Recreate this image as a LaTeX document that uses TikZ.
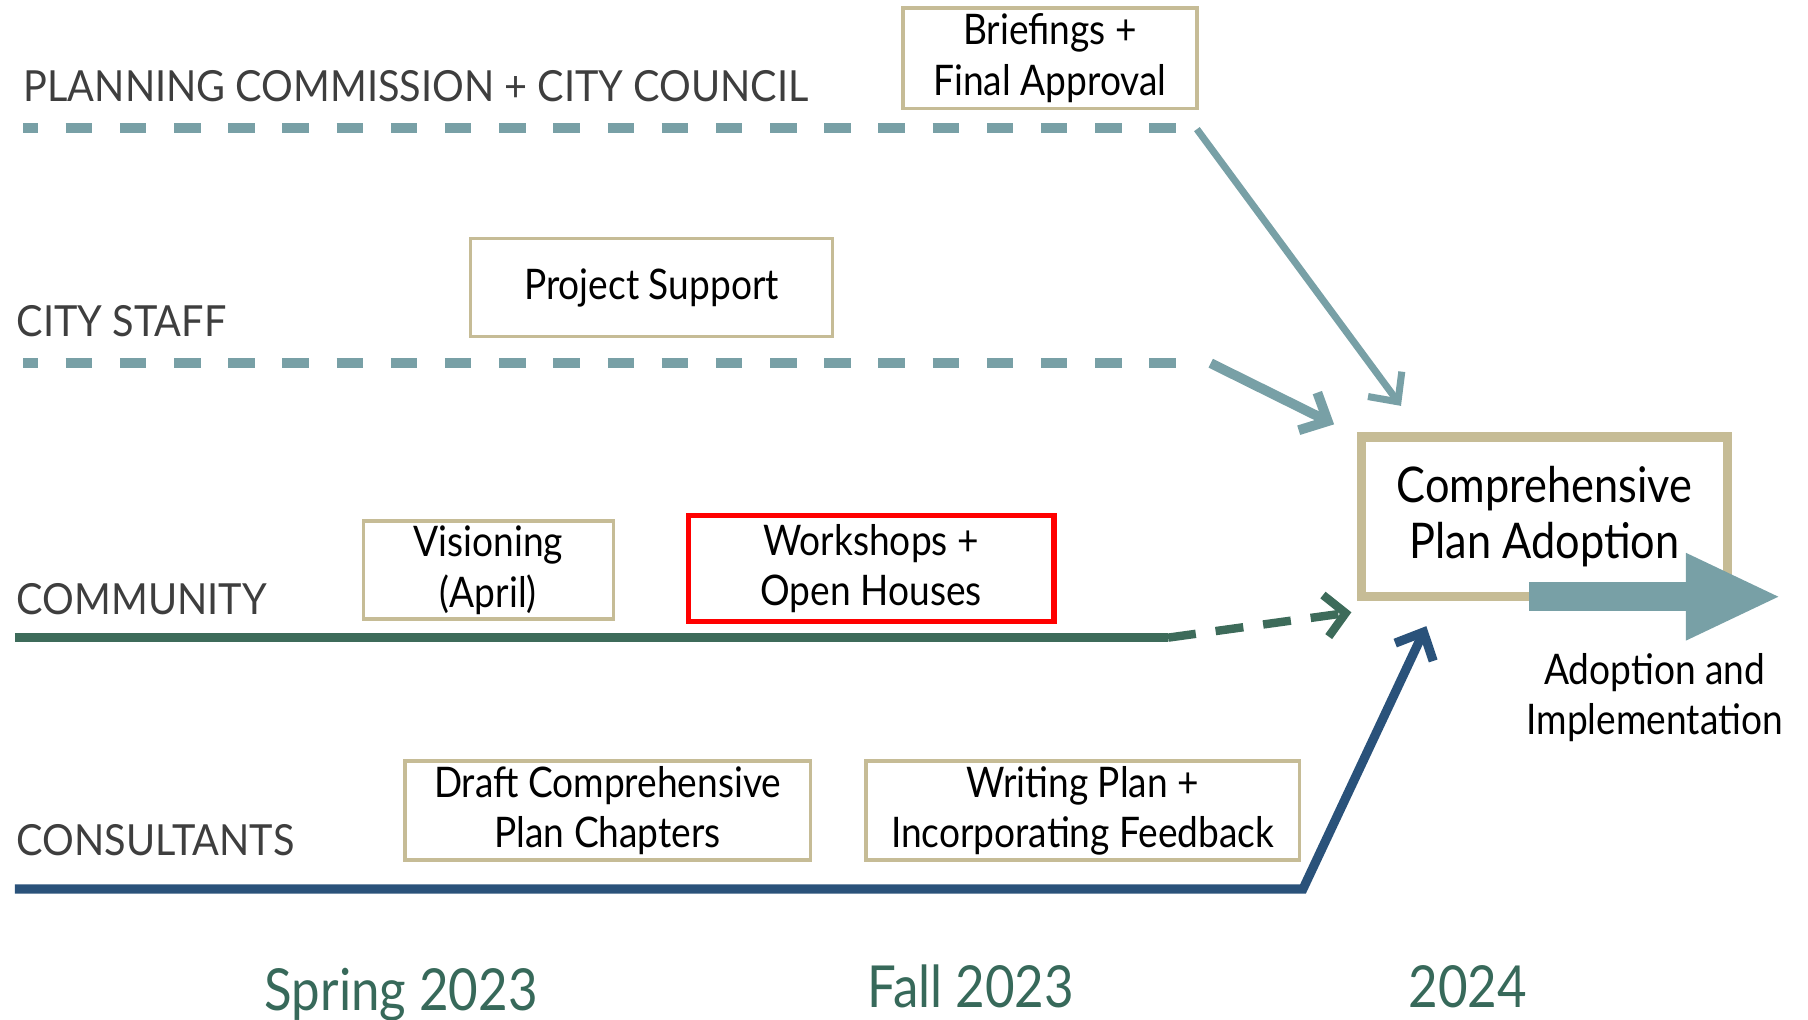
\documentclass[tikz,border=0pt]{standalone}
\usepackage{fontspec}
\setmainfont{Lato}
\newfontfamily\boxfont[FakeStretch=0.88]{Lato}
\newfontfamily\lanefont[FakeStretch=0.925]{Lato}
\usetikzlibrary{arrows.meta}

\begin{document}
\begin{tikzpicture}[x=0.011531cm,y=-0.011531cm]
\definecolor{laneteal}{RGB}{120,160,166}
\definecolor{lanetan}{RGB}{198,188,150}
\definecolor{lanegreen}{RGB}{61,107,90}
\definecolor{lanenavy}{RGB}{42,82,122}
\definecolor{labelgray}{RGB}{62,62,62}
\definecolor{yeargreen}{RGB}{55,105,90}
\tikzstyle{lanelabel}=[anchor=base west,inner sep=0pt,text=labelgray,font=\lanefont\fontsize{12.2}{14}\selectfont]
\tikzstyle{task}=[draw=lanetan,line width=1pt,align=center,inner sep=0pt,font=\boxfont\fontsize{12}{14.4}\selectfont]
\tikzstyle{highlight}=[task,draw=red,line width=1.6pt]
\tikzstyle{milestone}=[task,line width=2.6pt,font=\boxfont\fontsize{14}{15.8}\selectfont]
\tikzstyle{dashedlane}=[laneteal,line width=2.8pt,dash pattern=on 0.265cm off 0.277cm,dash phase=0.115cm]
\tikzstyle{feed}=[laneteal,-{Straight Barb[length=0.22cm,width=0.42cm]}]
\tikzstyle{year}=[anchor=base,inner sep=0pt,text=yeargreen,font=\boxfont\fontsize{16.5}{18}\selectfont]
\useasboundingbox (0,0) rectangle (1568,884);
% lane labels
\node[lanelabel] (pc) at (20,88) {PLANNING COMMISSION + CITY COUNCIL};
\node[lanelabel] (staff) at (14,292) {CITY STAFF};
\node[lanelabel] (community) at (14,533) {COMMUNITY};
\node[lanelabel] (consult) at (14,742) {CONSULTANTS};
% lane ends
\coordinate (pcA) at (20,111);
\coordinate (pcB) at (1020,111);
\coordinate (staffA) at (20,315);
\coordinate (staffB) at (1020,315);
\coordinate (comA) at (13,553);
\coordinate (comB) at (1013,553);
\coordinate (comC) at (1172,531);
\coordinate (conA) at (13,771);
\coordinate (conB) at (1130,771);
\coordinate (conC) at (1237,543);
\coordinate (pcD) at (1038,112);
\coordinate (pcE) at (1215,352);
\coordinate (staffD) at (1050,315);
\coordinate (staffE) at (1157,368);
\coordinate (bigA) at (1326,517.5);
\coordinate (bigB) at (1545,517.5);
% tasks
\node[task,minimum width=2.94cm,minimum height=1.003cm] (brief) at (910.5,50.5) {Briefings +\\Final Approval};
\node[task,minimum width=3.621cm,minimum height=0.98cm] (support) at (565,249.5) {Project Support};
\node[task,minimum width=2.502cm,minimum height=0.98cm] (vision) at (423.5,494.5) {Visioning\\(April)};
\node[highlight,minimum width=3.655cm,minimum height=1.061cm] (workshop) at (755.5,493) {Workshops +\\Open Houses};
\node[task,minimum width=4.059cm,minimum height=0.992cm] (draft) at (527,703) {Draft Comprehensive\\Plan Chapters};
\node[task,minimum width=4.336cm,minimum height=0.992cm] (writing) at (939,703) {Writing Plan +\\Incorporating Feedback};
\node[milestone,minimum width=3.655cm,minimum height=1.591cm] (adopt) at (1339.5,448) {Comprehensive\\Plan Adoption};
% lanes
\draw[dashedlane] (pcA) -- (pcB);
\draw[dashedlane] (staffA) -- (staffB);
\draw[lanegreen,line width=2.6pt] (comA) -- (comB);
\draw[lanegreen,line width=2.4pt,dash pattern=on 0.28cm off 0.2cm,-{Straight Barb[length=0.2cm,width=0.42cm]}] (comB) -- (comC);
\draw[lanenavy,line width=2.6pt,-{Straight Barb[length=0.22cm,width=0.42cm]}] (conA) -- (conB) -- (conC);
\draw[feed,line width=2pt] (pcD) -- (pcE);
\draw[feed,line width=2.8pt] (staffD) -- (staffE);
\draw[laneteal,line width=0.288cm,-{Triangle[length=0.957cm,width=0.8cm]}] (bigA) -- (bigB);
\node[anchor=center,align=center,inner sep=0pt,font=\boxfont\fontsize{12}{14.5}\selectfont] (impl) at (1435,605) {Adoption and\\Implementation};
% years
\node[year] (spring) at (348,876) {Spring 2023};
\node[year] (fall) at (842,874) {Fall 2023};
\node[year] (next) at (1273,874) {2024};
\end{tikzpicture}
\end{document}
